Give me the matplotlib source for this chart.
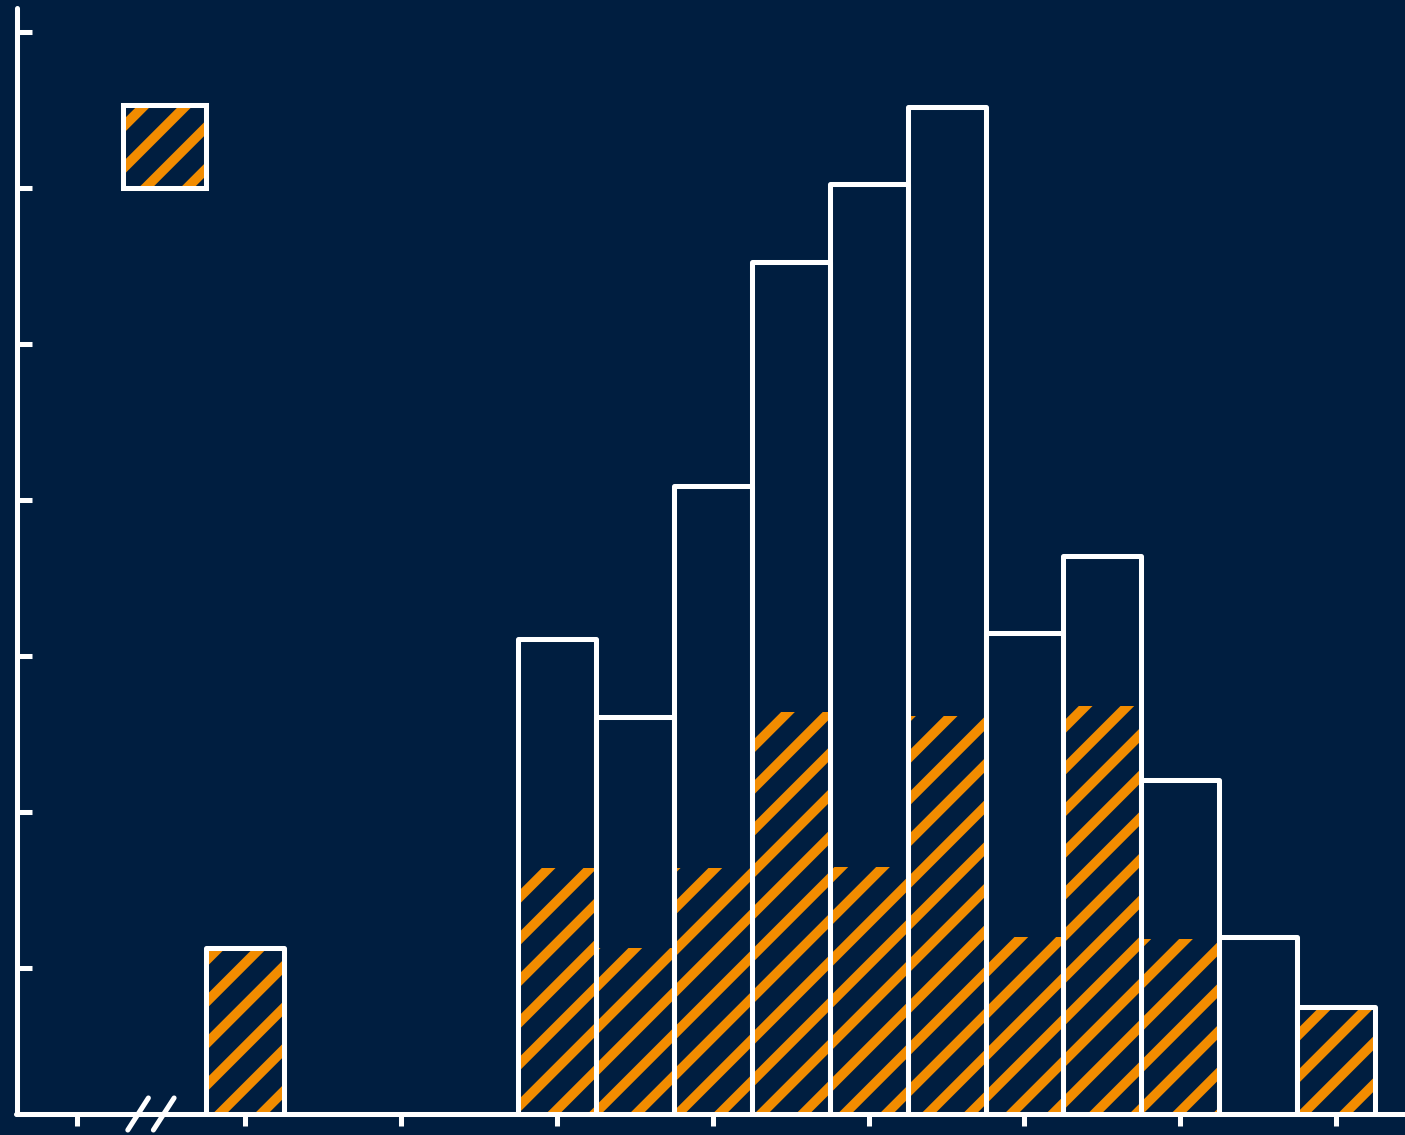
import matplotlib
matplotlib.use("Agg")
import matplotlib.pyplot as plt
from matplotlib.patches import Rectangle
from matplotlib.legend_handler import HandlerTuple
from matplotlib.lines import Line2D
import matplotlib.transforms as mtransforms

# ---- data -------------------------------------------------------------
bin_centers = [0.0, 2.0, 2.5, 3.0, 3.5, 4.0, 4.5, 5.0, 5.5, 6.0, 6.5, 7.0]
total_counts = [1.13, 3.11, 2.61, 4.09, 5.53, 6.03, 6.52, 3.15, 3.64, 2.21, 1.20, 0.75]
subset_counts = [1.13, 1.64, 1.13, 1.64, 2.64, 1.65, 2.62, 1.20, 2.68, 1.19, 0.0, 0.75]
bin_width = 0.5
x_tick_values = [-1.077, 0, 1, 2, 3, 4, 5, 6, 7]
y_tick_values = [1, 2, 3, 4, 5, 6, 7]
break_marks_x = [(-0.752, -0.620), (-0.588, -0.455)]

# ---- style ------------------------------------------------------------
NAVY = "#001e40"
ORANGE = "#f28c00"
WHITE = "#ffffff"
DPI = 250
LW = 1.45
HATCH = "//"

plt.rcParams["hatch.linewidth"] = 2.8

fig = plt.figure(figsize=(1405 / DPI, 1135 / DPI), dpi=DPI, facecolor=NAVY)
ax = fig.add_axes([16.5 / 1405, 21 / 1135, 1 - 16.5 / 1405, 1 - 29 / 1135])
ax.set_facecolor(NAVY)

# hatched subset bars (no outline)
ax.bar(bin_centers, subset_counts, width=bin_width, facecolor="none",
       edgecolor=ORANGE, linewidth=0, hatch=HATCH, zorder=2)
# outlined total bars
ax.bar(bin_centers, total_counts, width=bin_width, facecolor="none",
       edgecolor=WHITE, linewidth=LW, zorder=3, joinstyle="round")

ax.set_xlim(-1.466, 7.441)
ax.set_ylim(0.066, 7.156)

# spines
for side in ("top", "right"):
    ax.spines[side].set_visible(False)
for side in ("left", "bottom"):
    ax.spines[side].set_color(WHITE)
    ax.spines[side].set_linewidth(LW)
    ax.spines[side].set_capstyle("round")
    ax.spines[side].set_zorder(4)

ax.set_xticks(x_tick_values)
ax.set_xticklabels([""] * len(x_tick_values))
ax.set_yticks(y_tick_values)
ax.set_yticklabels([""] * len(y_tick_values))
ax.tick_params(axis="x", direction="out", length=3.4, width=LW, color=WHITE)
ax.tick_params(axis="y", direction="in", length=4.2, width=LW, color=WHITE)

# axis break marks on the x axis
trans = mtransforms.blended_transform_factory(ax.transData, ax.transAxes)
for x0, x1 in break_marks_x:
    ax.add_line(Line2D([x0, x1], [-0.0145, 0.0145], transform=trans,
                       color=WHITE, lw=LW, solid_capstyle="round",
                       clip_on=False, zorder=5))

# legend handle: orange hatch inside a white frame
hatch_patch = Rectangle((0, 0), 1, 1, facecolor="none", edgecolor=ORANGE,
                        linewidth=0, hatch=HATCH)
frame_patch = Rectangle((0, 0), 1, 1, facecolor="none", edgecolor=WHITE,
                        linewidth=LW)
fs = 6
fs_px = fs * DPI / 72
hl = 82.2 / fs_px
leg = ax.legend(handles=[(hatch_patch, frame_patch)], labels=[""],
                handler_map={tuple: HandlerTuple(ndivide=1, pad=0)},
                loc="upper left",
                bbox_to_anchor=(123.3 / 1405, 1 - 105 / 1135),
                bbox_transform=fig.transFigure,
                frameon=False, fontsize=fs, borderpad=0, borderaxespad=0,
                handlelength=hl, handleheight=hl * 1.45, handletextpad=0)

fig.savefig("out.png", dpi=DPI, facecolor=NAVY)
